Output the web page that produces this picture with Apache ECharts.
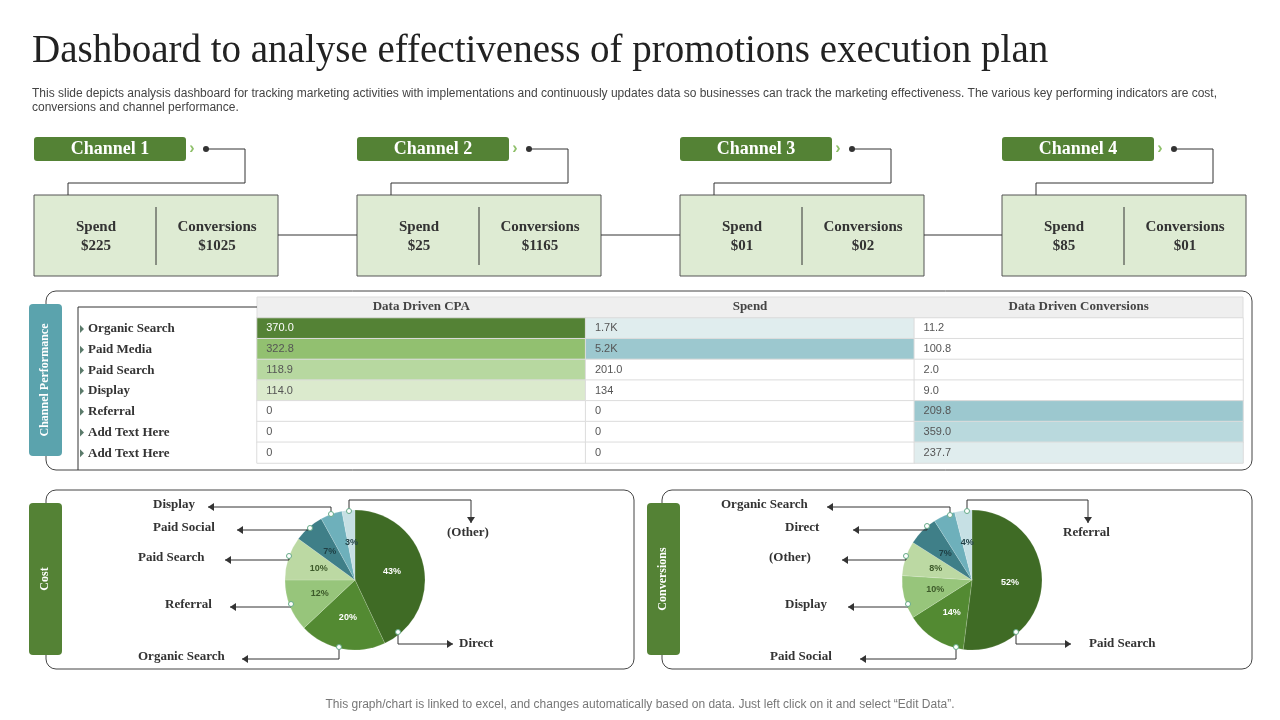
<!DOCTYPE html>
<html><head><meta charset="utf-8">
<script src="https://cdn.jsdelivr.net/npm/echarts@6/dist/echarts.min.js"></script>
<style>html,body{margin:0;padding:0;background:#fff}#c{width:1280px;height:720px}</style>
</head><body><div id="c"></div>
<script>
// ---- data ----
const channelNames = ['Channel 1','Channel 2','Channel 3','Channel 4'];
const channelSpend = ['$225','$25','$01','$85'];
const channelConv = ['$1025','$1165','$02','$01'];
const tableRows = ['Organic Search','Paid Media','Paid Search','Display','Referral','Add Text Here','Add Text Here'];
const tableCols = ['Data Driven CPA','Spend','Data Driven Conversions'];
const cpaValues = [370.0,322.8,118.9,114.0,0,0,0];
const spendValues = [1700,5200,201.0,134,0,0,0];
const convValues = [11.2,100.8,2.0,9.0,209.8,359.0,237.7];
const cpaLabels = ['370.0','322.8','118.9','114.0','0','0','0'];
const spendLabels = ['1.7K','5.2K','201.0','134','0','0','0'];
const convLabels = ['11.2','100.8','2.0','9.0','209.8','359.0','237.7'];
const costNames = ['Direct','Organic Search','Referral','Paid Search','Paid Social','Display','(Other)'];
const costValues = [43,20,12,10,7,5,3];
const convPieNames = ['Paid Search','Paid Social','Display','(Other)','Direct','Organic Search','Referral'];
const convPieValues = [52,14,10,8,7,5,4];

// ---- styles ----
const serif = '"Liberation Serif","DejaVu Serif",serif';
const sans = '"Liberation Sans",Arial,sans-serif';
const pieColors = ['#3f6b25','#538a32','#97c57b','#bcd9a3','#3f7f88','#6eb0bb','#c6e0e4'];
const pieLabelColors = ['#fff','#fff','#3d5a2a','#3d5a2a','#1f3f44','#1f3f44','#1f3f44'];
const cpaColors = ['#548235','#92c070','#b7d8a0','#dbeacd','#fff','#fff','#fff'];
const spendColors = ['#e0edee','#9cc8cf','#fff','#fff','#fff','#fff','#fff'];
const convColors = ['#fff','#fff','#fff','#fff','#9cc8cf','#b9d9dd','#e0edee'];

const chart = echarts.init(document.getElementById('c'));
const g = [];
function txt(x,y,t,o){g.push({type:'text',x:x,y:y,z:20,style:Object.assign({text:t,fill:'#333',font:'bold 14px '+serif,textVerticalAlign:'middle'},o||{})});}
function line(pts,o){g.push({type:'polyline',shape:{points:pts},style:Object.assign({stroke:'#333',lineWidth:1,fill:null},o||{}),z:5});}
function rect(x,y,w,h,o,r,z){g.push({type:'rect',shape:{x:x,y:y,width:w,height:h,r:r||0},style:Object.assign({fill:'#fff'},o||{}),z:z||1});}
function arrow(x,y,dir){
  let p = dir===2?[[x-4,y-6],[x+4,y-6],[x,y]]:[[x,y],[x-6*dir,y-4],[x-6*dir,y+4]];
  g.push({type:'polygon',shape:{points:p},style:{fill:'#333'},z:6});
}

// title
txt(32,52,'Dashboard to analyse effectiveness of promotions execution plan',{font:'39px '+serif,fill:'#222'});
txt(32,94,'This slide depicts analysis dashboard for tracking marketing activities with implementations and continuously updates data so businesses can track the marketing effectiveness. The various key performing indicators are cost,',{font:'12px '+sans,fill:'#444'});
txt(32,108,'conversions and channel performance.',{font:'12px '+sans,fill:'#444'});

// channels
const chX = [34,357,680,1002];
chX.forEach((x,i)=>{
  rect(x,137,152,24,{fill:'#548235'},3,3);
  txt(x+76,149,channelNames[i],{font:'bold 18px '+serif,fill:'#fff',textAlign:'center'});
  txt(x+158,149,'›',{font:'bold 16px '+sans,fill:'#8fc06a',textAlign:'center'});
  g.push({type:'circle',shape:{cx:x+172,cy:149,r:3},style:{fill:'#333'},z:6});
  line([[x+172,149],[x+211,149],[x+211,183],[x+34,183],[x+34,195]]);
  rect(x,195,244,81,{fill:'#deebd3',stroke:'#555',lineWidth:1},0,3);
  line([[x+122,207],[x+122,265]]);
  txt(x+62,227,'Spend',{textAlign:'center',font:'bold 15px '+serif});
  txt(x+62,246,channelSpend[i],{textAlign:'center',font:'bold 15px '+serif});
  txt(x+183,227,'Conversions',{textAlign:'center',font:'bold 15px '+serif});
  txt(x+183,246,channelConv[i],{textAlign:'center',font:'bold 15px '+serif});
  if(i<3) line([[x+244,235],[chX[i+1],235]]);
});

// table panel
rect(46,291,1206,179,{fill:'#fff',stroke:'#444',lineWidth:1},10);
rect(29,304,33,152,{fill:'#5ba3ad'},4,3);
g.push({type:'text',x:45,y:380,rotation:Math.PI/2,style:{text:'Channel Performance',font:'bold 12px '+serif,fill:'#fff',textAlign:'center',textVerticalAlign:'middle'},z:20});
line([[257,307],[78,307],[78,470]]);
rect(257,297,986,21,{fill:'#efefef',stroke:'#ddd'},0,2);
tableRows.forEach((r,i)=>{
  const y=329+i*20.7;
  g.push({type:'polygon',shape:{points:[[80,y-4],[84,y],[80,y+4]]},style:{fill:'#5a7a6a'},z:5});
  txt(88,y,r,{font:'bold 13px '+serif});
});

// pie panels
rect(46,490,588,179,{fill:'#fff',stroke:'#444'},10);
rect(29,503,33,152,{fill:'#548235'},4,3);
g.push({type:'text',x:45,y:579,rotation:Math.PI/2,style:{text:'Cost',font:'bold 12px '+serif,fill:'#fff',textAlign:'center',textVerticalAlign:'middle'},z:20});
rect(662,490,590,179,{fill:'#fff',stroke:'#444'},10);
rect(647,503,33,152,{fill:'#548235'},4,3);
g.push({type:'text',x:663,y:579,rotation:Math.PI/2,style:{text:'Conversions',font:'bold 12px '+serif,fill:'#fff',textAlign:'center',textVerticalAlign:'middle'},z:20});

function dot(dx,dy){g.push({type:'circle',shape:{cx:dx,cy:dy,r:2.5},style:{fill:'#fff',stroke:'#6a8',lineWidth:1},z:7});}
function leftCall(name,tx,ty,ax,dx,dy){
  txt(tx,ty,name,{font:'bold 13px '+serif});
  line([[dx,dy],[dx,ty+2],[ax,ty+2]]);arrow(ax,ty+2,-1);dot(dx,dy);
}
function topCall(name,tx,ty,dx,dy,rx){
  txt(tx,ty,name,{font:'bold 13px '+serif});
  line([[dx,dy],[dx,500],[rx,500],[rx,523]]);arrow(rx,523,2);dot(dx,dy);
}
function botCall(name,tx,ty,dx,dy,ax){
  txt(tx,ty,name,{font:'bold 13px '+serif});
  line([[dx,dy],[dx,ty],[ax,ty]]);arrow(ax,ty,1);dot(dx,dy);
}
leftCall('Display',153,505,208,331,514);
leftCall('Paid Social',153,528,237,310,528);
leftCall('Paid Search',138,558,225,289,556);
leftCall('Referral',165,605,230,291,604);
leftCall('Organic Search',138,657,242,339,647);
topCall('(Other)',447,533,349,511,471);
botCall('Direct',459,644,398,632,453);
leftCall('Organic Search',721,505,827,950,515);
leftCall('Direct',785,528,853,927,526);
leftCall('(Other)',769,558,842,906,556);
leftCall('Display',785,605,848,908,604);
leftCall('Paid Social',770,657,860,956,647);
topCall('Referral',1063,533,967,511,1088);
botCall('Paid Search',1089,644,1016,632,1071);

txt(640,705,'This graph/chart is linked to excel, and changes automatically based on data. Just left click on it and select “Edit Data”.',{font:'12px '+sans,fill:'#777',textAlign:'center'});

// heatmap data
const colArrays=[cpaValues,spendValues,convValues], colLabels=[cpaLabels,spendLabels,convLabels], colColors=[cpaColors,spendColors,convColors];
const hm=[];
colArrays.forEach((arr,c)=>arr.forEach((v,r)=>hm.push({value:[c,r,v],label:{formatter:colLabels[c][r],color:c===0&&r===0?'#fff':'#555'},itemStyle:{color:colColors[c][r]}})));

function pieSeries(cx,names,vals){
  const data=names.map((n,i)=>({name:n,value:vals[i],itemStyle:{color:pieColors[i]},label:{color:pieLabelColors[i]}}));
  return [
    {type:'pie',center:[cx,580],radius:[0,70],startAngle:90,clockwise:true,data:data,silent:true,
     label:{show:true,position:'inside',formatter:'{c}%',fontSize:9,fontWeight:'bold',fontFamily:sans},
     itemStyle:{borderColor:'rgba(255,255,255,0.3)',borderWidth:0.5},z:3},
    {type:'pie',center:[cx,580],radius:[0,50],startAngle:90,clockwise:true,silent:true,
     data:names.map((n,i)=>({name:n,value:vals[i],itemStyle:{color:'rgba(255,255,255,0.14)'}})),label:{show:false},z:2}
  ];
}

chart.setOption({
  animation:false,
  grid:{left:257,top:318,width:986,height:145},
  xAxis:{type:'category',data:tableCols,position:'top',axisLine:{show:false},axisTick:{show:false},
    axisLabel:{margin:5,fontFamily:serif,fontWeight:'bold',fontSize:13,color:'#444'},z:10},
  yAxis:{type:'category',data:tableRows,inverse:true,show:false},
  series:[
    {type:'heatmap',data:hm,itemStyle:{borderColor:'#dcdcdc',borderWidth:1},
     label:{show:true,position:'insideLeft',distance:10,fontFamily:sans,fontSize:11},z:2},
    ...pieSeries(355,costNames,costValues),
    ...pieSeries(972,convPieNames,convPieValues)
  ],
  graphic:{elements:g}
});
</script></body></html>
